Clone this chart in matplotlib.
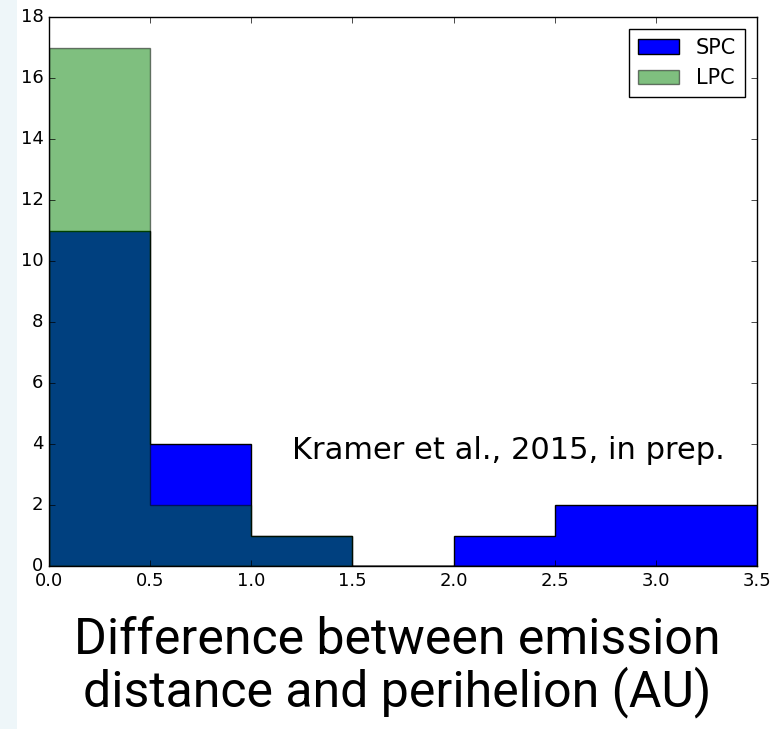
import numpy as np
import matplotlib
matplotlib.use("Agg")
import matplotlib.pyplot as plt
from matplotlib.patches import Rectangle

plt.style.use("classic")

# bin edges (AU) and counts per bin
EDGES = [0.0, 0.5, 1.0, 1.5, 2.0, 2.5, 3.0, 3.5]
SPC = [11, 4, 1, 0, 1, 2, 2]
LPC = [17, 2, 1, 0, 0, 0, 0]

centers = [(a + b) / 2 for a, b in zip(EDGES[:-1], EDGES[1:])]

fig = plt.figure(figsize=(7.75, 7.29), dpi=100, facecolor="white")
# slide background strip on the left
fig.patches.append(Rectangle((0, 0), 17 / 775, 1, transform=fig.transFigure,
                             facecolor="#eef6f9", edgecolor="none", zorder=0))
ax = fig.add_axes([49 / 775, 1 - 566 / 729, (757 - 49) / 775, (566 - 17) / 729])

ax.hist(centers, bins=EDGES, weights=SPC, histtype="stepfilled",
        color="blue", edgecolor="black", label="SPC")
ax.hist(centers, bins=EDGES, weights=LPC, histtype="stepfilled",
        color="green", edgecolor="black", alpha=0.5, label="LPC")

ax.set_xlim(0, 3.5)
ax.set_ylim(0, 18)
ax.set_yticks(range(0, 19, 2))
ax.set_xticks(np.arange(0, 3.51, 0.5))
ax.tick_params(labelsize=13)
ax.legend(loc="upper right", fontsize=15, borderaxespad=0.6)

ax.text(0.955, 0.21, "Kramer et al., 2015, in prep.", transform=ax.transAxes,
        ha="right", va="center", fontsize=22,
        family=["DejaVu Sans"])

fig.text(0.512, 0.085, "Difference between emission\ndistance and perihelion (AU)",
         ha="center", va="center", fontsize=36, linespacing=1.05,
         family=["Roboto", "DejaVu Sans"])

fig.savefig("out.png", dpi=100, facecolor="white")
